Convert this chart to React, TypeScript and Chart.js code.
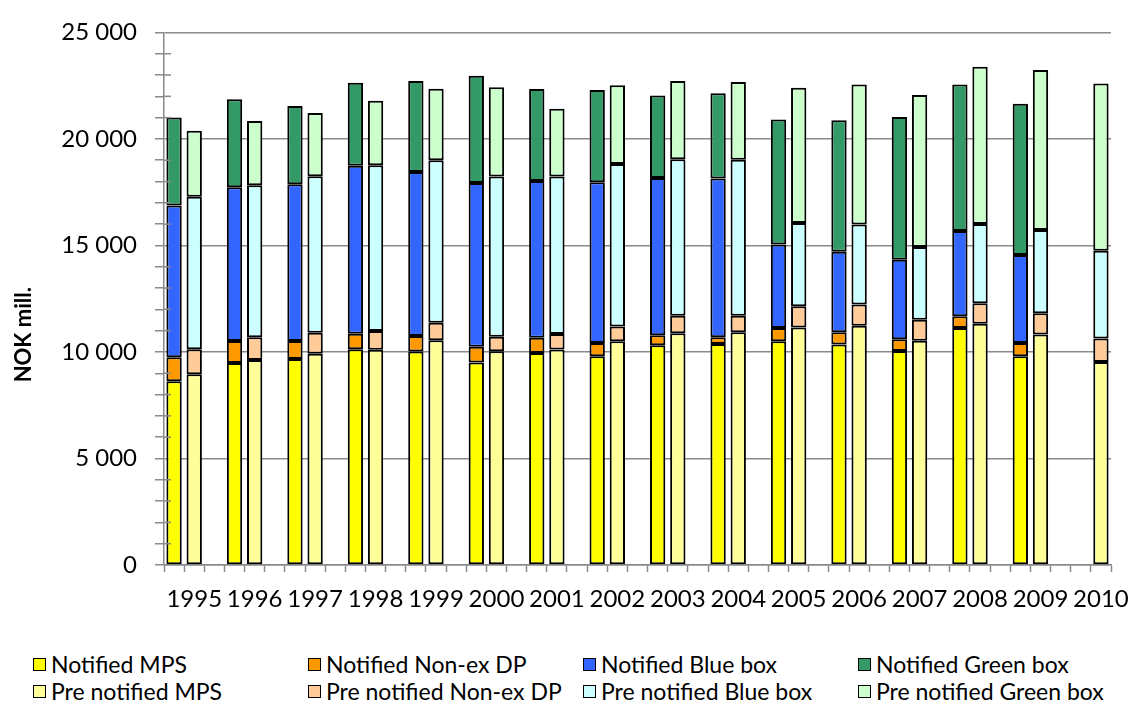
import React, { useEffect, useRef } from 'react';
import { Chart, registerables } from 'chart.js';

Chart.register(...registerables);

const years = ['1995', '1996', '1997', '1998', '1999', '2000', '2001', '2002', '2003', '2004', '2005', '2006', '2007', '2008', '2009', '2010'];

const notifiedMPS = [8630, 9480, 9670, 10130, 10020, 9500, 9950, 9800, 10320, 10370, 10500, 10350, 10050, 11130, 9800, null];
const notifiedNonExDP = [1120, 1030, 850, 730, 730, 750, 720, 620, 470, 320, 620, 570, 550, 550, 620, null];
const notifiedBlueBox = [7130, 7220, 7350, 7880, 7700, 7680, 7350, 7550, 7380, 7450, 3920, 3780, 3730, 4000, 4130, null];
const notifiedGreenBox = [4120, 4130, 3680, 3900, 4270, 5030, 4320, 4330, 3870, 4000, 5870, 6180, 6700, 6870, 7100, null];

const preMPS = [8950, 9620, 9920, 10100, 10550, 10030, 10120, 10500, 10880, 10920, 11150, 11230, 10530, 11320, 10820, 9530];
const preNonExDP = [1180, 1070, 980, 880, 820, 680, 720, 700, 820, 780, 1000, 1000, 980, 970, 1000, 1100];
const preBlueBox = [7150, 7130, 7350, 7780, 7630, 7530, 7400, 7620, 7350, 7320, 3900, 3750, 3420, 3720, 3900, 4120];
const preGreenBox = [3100, 3020, 2970, 3030, 3350, 4180, 3180, 3700, 3670, 3650, 6350, 6580, 7130, 7380, 7520, 7850];

const seriesNames = [
  'Notified MPS', 'Notified Non-ex DP', 'Notified Blue box', 'Notified Green box',
  'Pre notified MPS', 'Pre notified Non-ex DP', 'Pre notified Blue box', 'Pre notified Green box',
];
const seriesColors = [
  '#FFFF00', '#FF9900', '#3366FF', '#339966',
  '#FFFF99', '#FFCC99', '#CCFFFF', '#CCFFCC',
];

const yTickStep = 1000;
const yMajorStep = 5000;
const yMax = 25000;

const GRAY = '#8a8a8a';
const FONT = 'Lato, "Open Sans", sans-serif';

// slots: notified, pre notified, gap (no gap after the last year)
const slotLabels: string[] = [];
years.forEach((y, i) => {
  slotLabels.push('');
  slotLabels.push(y);
  if (i < years.length - 1) slotLabels.push('');
});

function expand(arr: (number | null)[], offset: number): (number | null)[] {
  const out: (number | null)[] = slotLabels.map(() => null);
  arr.forEach((v, i) => {
    out[i * 3 + offset] = v;
  });
  return out;
}

function fmt(v: number): string {
  return String(v).replace(/\B(?=(\d{3})+(?!\d))/g, ' ');
}

const minorTicksPlugin = {
  id: 'minorTicks',
  afterDraw(chart: any) {
    const y = chart.scales.y;
    const ctx = chart.ctx;
    const left = chart.chartArea.left;
    ctx.save();
    ctx.strokeStyle = GRAY;
    ctx.lineWidth = 1.5;
    for (let v = 0; v <= yMax; v += yTickStep) {
      if (v % yMajorStep === 0) continue;
      const py = y.getPixelForValue(v);
      ctx.beginPath();
      ctx.moveTo(left, py);
      ctx.lineTo(left + 7, py);
      ctx.stroke();
    }
    ctx.restore();
  },
};

const yTitlePlugin = {
  id: 'yTitle',
  afterDraw(chart: any) {
    const ctx = chart.ctx;
    const area = chart.chartArea;
    ctx.save();
    ctx.translate(24, (area.top + area.bottom) / 2 + 36);
    ctx.rotate(-Math.PI / 2);
    ctx.font = `bold 22px ${FONT}`;
    ctx.fillStyle = '#000';
    ctx.textAlign = 'center';
    ctx.textBaseline = 'middle';
    ctx.fillText('NOK mill.', 0, 0);
    ctx.restore();
  },
};

function ChartCanvas() {
  const ref = useRef<HTMLCanvasElement>(null);
  useEffect(() => {
    if (!ref.current) return;
    const seriesData = [
      notifiedMPS, notifiedNonExDP, notifiedBlueBox, notifiedGreenBox,
      preMPS, preNonExDP, preBlueBox, preGreenBox,
    ];
    const datasets = seriesData.map((arr, i) => ({
      label: seriesNames[i],
      data: expand(arr, i < 4 ? 0 : 1),
      backgroundColor: seriesColors[i],
      borderColor: '#000000',
      borderWidth: 2,
      borderSkipped: false,
      stack: 'all',
      categoryPercentage: 1,
      barPercentage: 0.76,
    }));
    const chart = new Chart(ref.current, {
      type: 'bar',
      data: { labels: slotLabels, datasets },
      options: {
        animation: false,
        responsive: false,
        layout: { padding: { top: 28, right: 22, left: 0, bottom: 0 } },
        plugins: { legend: { display: false }, tooltip: { enabled: false } },
        scales: {
          x: {
            stacked: true,
            offset: true,
            grid: { offset: true, drawOnChartArea: false, tickLength: 7, tickColor: GRAY, tickWidth: 1.5 },
            border: { color: GRAY, width: 1.5 },
            ticks: {
              autoSkip: false,
              maxRotation: 0,
              minRotation: 0,
              padding: 13,
              color: '#000',
              font: { family: FONT, size: 24 },
              callback: (_v: any, i: number) => slotLabels[i],
            },
            afterFit: (s: any) => { s.height = 75; },
          },
          y: {
            stacked: true,
            min: 0,
            max: yMax,
            ticks: {
              stepSize: yTickStep,
              autoSkip: false,
              padding: 18,
              color: '#000',
              font: { family: FONT, size: 24 },
              callback: (v: any) => (Number(v) % yMajorStep === 0 ? fmt(Number(v)) : ''),
            },
            grid: {
              color: (c: any) => (c.tick && c.tick.value % yMajorStep === 0 ? GRAY : 'rgba(0,0,0,0)'),
              tickColor: GRAY,
              tickLength: 9,
              lineWidth: 1.5,
            },
            border: { color: GRAY, width: 1.5 },
            afterFit: (s: any) => { s.width = 164; },
          },
        },
      },
      plugins: [minorTicksPlugin, yTitlePlugin],
    } as any);
    return () => chart.destroy();
  }, []);
  return <canvas ref={ref} width={1142} height={640} style={{ display: 'block' }} />;
}

export default function App() {
  return (
    <div style={{ position: 'absolute', left: 0, top: 0, width: 1142, height: 702, background: '#fff', overflow: 'hidden' }}>
      <ChartCanvas />
      {seriesNames.map((name, i) => {
        const col = i % 4;
        const row = Math.floor(i / 4);
        return (
          <div
            key={name}
            style={{
              position: 'absolute',
              left: 33 + 275 * col,
              top: 649 + row * 27,
              height: 30,
              display: 'flex',
              alignItems: 'center',
              fontFamily: FONT,
              fontSize: 23,
              color: '#000',
              whiteSpace: 'nowrap',
            }}
          >
            <span
              style={{
                display: 'inline-block',
                width: 11,
                height: 11,
                border: '1.5px solid #000',
                background: seriesColors[i],
                marginRight: 5,
                flexShrink: 0,
              }}
            />
            {name}
          </div>
        );
      })}
    </div>
  );
}
